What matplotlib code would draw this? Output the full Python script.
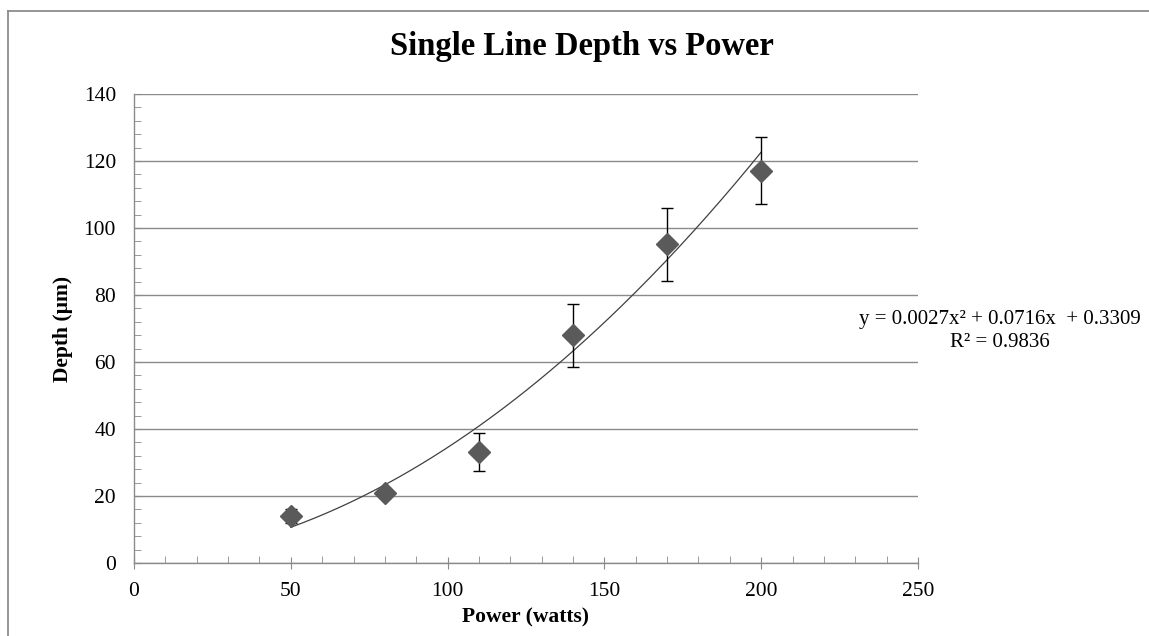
import matplotlib
matplotlib.use("Agg")
import matplotlib.pyplot as plt
import numpy as np
from matplotlib.lines import Line2D
from matplotlib.ticker import MultipleLocator

power = [50, 80, 110, 140, 170, 200]
depth = [14, 21, 33.2, 68, 95.1, 117.1]
err = [2, 1.5, 5.6, 9.4, 10.8, 10]
coeffs = [0.0027, 0.0716, 0.3309]
r2 = 0.9836

plt.rcParams['font.family'] = ['Liberation Serif', 'DejaVu Serif']

fig = plt.figure(figsize=(11.49, 6.36), dpi=100)
bx, by = 8/1149, 1 - 11/636
fig.add_artist(Line2D([bx, bx], [0, by], transform=fig.transFigure, color='#8c8c8c', linewidth=1.3))
fig.add_artist(Line2D([bx, 1], [by, by], transform=fig.transFigure, color='#8c8c8c', linewidth=1.3))
ax = fig.add_axes([134/1149, (636-563)/636, (918-134)/1149, (563-94)/636])

ax.set_xlim(0, 250)
ax.set_ylim(0, 140)
ax.xaxis.set_major_locator(MultipleLocator(50))
ax.xaxis.set_minor_locator(MultipleLocator(10))
ax.yaxis.set_major_locator(MultipleLocator(20))
ax.yaxis.set_minor_locator(MultipleLocator(4))
ax.grid(axis='y', which='major', color='#8a8a8a', linewidth=1.0)
ax.set_axisbelow(True)
for s in ['top', 'right']:
    ax.spines[s].set_visible(False)
for s in ['left', 'bottom']:
    ax.spines[s].set_color('#8a8a8a')
    ax.spines[s].set_linewidth(1.0)
ax.tick_params(axis='both', which='major', direction='inout', length=9, color='#8a8a8a',
               labelsize=15.5)
ax.tick_params(axis='both', which='minor', direction='in', length=5, color='#8a8a8a')
ax.tick_params(axis='x', which='major', pad=9)
ax.tick_params(axis='y', which='major', direction='in', length=5, pad=13)

xs = np.linspace(min(power), max(power), 200)
ax.plot(xs, np.polyval(coeffs, xs), color='#404040', linewidth=0.9, zorder=2)

ax.errorbar(power, depth, yerr=err, fmt='none', ecolor='black', elinewidth=1.0,
            capsize=4, capthick=1.0, zorder=3)
ax.plot(power, depth, linestyle='none', marker='D', markersize=11,
        color='#5a5a5a', markeredgecolor='#5a5a5a', zorder=4)

ax.set_xlabel('Power (watts)', fontsize=15.5, fontweight='bold', labelpad=5)
ax.set_ylabel('Depth (µm)', fontsize=15.5, fontweight='bold')
ax.yaxis.set_label_coords(-0.078, 0.5)
fig.text(582/1149, 1-46/636, 'Single Line Depth vs Power', ha='center', va='center',
         fontsize=23.5, fontweight='bold')
eq = f"y = {coeffs[0]:.4f}x² + {coeffs[1]:.4f}x  + {coeffs[2]:.4f}\nR² = {r2:.4f}"
fig.text(1000/1149, 1-331/636, eq, ha='center', va='center', fontsize=15,
         linespacing=1.3)

fig.savefig('out.png', dpi=100)
